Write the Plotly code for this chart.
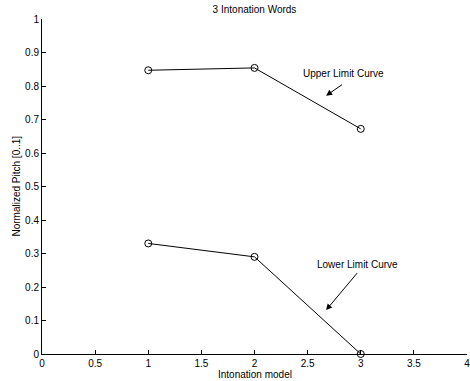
import plotly.graph_objects as go

models = [1, 2, 3]
upper_limit = [0.847, 0.854, 0.672]
lower_limit = [0.330, 0.290, 0.000]
x_ticks = [0, 0.5, 1, 1.5, 2, 2.5, 3, 3.5, 4]
x_tick_labels = ["0", "0.5", "1", "1.5", "2", "2.5", "3", "3.5", "4"]
y_ticks = [0, 0.1, 0.2, 0.3, 0.4, 0.5, 0.6, 0.7, 0.8, 0.9, 1]
y_tick_labels = ["0", "0.1", "0.2", "0.3", "0.4", "0.5", "0.6", "0.7", "0.8", "0.9", "1"]

FONT = "Liberation Sans, Arial, Helvetica, sans-serif"

fig = go.Figure()
for ys in (upper_limit, lower_limit):
    fig.add_trace(go.Scatter(
        x=models, y=ys, mode="lines+markers",
        line=dict(color="black", width=1),
        marker=dict(symbol="circle-open", size=7, color="black", line=dict(width=1)),
        showlegend=False, cliponaxis=False,
    ))

fig.add_annotation(x=2.674, y=0.771, ax=2.837, ay=0.807, xref="x", yref="y",
                   axref="x", ayref="y", showarrow=True, arrowhead=2,
                   arrowsize=1.2, arrowwidth=1, arrowcolor="black", text="")
fig.add_annotation(x=2.834, y=0.837, xref="x", yref="y", text="Upper Limit Curve",
                   showarrow=False, font=dict(size=10, color="black", family=FONT))
fig.add_annotation(x=2.674, y=0.131, ax=2.978, ay=0.246, xref="x", yref="y",
                   axref="x", ayref="y", showarrow=True, arrowhead=2,
                   arrowsize=1.2, arrowwidth=1, arrowcolor="black", text="")
fig.add_annotation(x=2.973, y=0.266, xref="x", yref="y", text="Lower Limit Curve",
                   showarrow=False, font=dict(size=10, color="black", family=FONT))

# axis titles
fig.add_annotation(x=0.5, y=0, xref="paper", yref="paper", yshift=-20, yanchor="middle",
                   text="Intonation model", showarrow=False,
                   font=dict(size=10, color="black", family=FONT))
fig.add_annotation(x=0, y=0.5, xref="paper", yref="paper", xshift=-26, xanchor="center",
                   text="Normalized Pitch [0..1]", textangle=-90, showarrow=False,
                   font=dict(size=10, color="black", family=FONT))

fig.update_layout(
    width=470, height=381,
    margin=dict(l=42, r=3, t=19, b=27, autoexpand=False),
    paper_bgcolor="white", plot_bgcolor="white",
    font=dict(family=FONT, size=10, color="black"),
    title=dict(text="3 Intonation Words", x=0.5415, xanchor="center",
               yref="container", y=1 - 9 / 381, yanchor="middle",
               font=dict(size=10, color="black", family=FONT)),
    xaxis=dict(range=[0, 4], tickvals=x_ticks, ticktext=x_tick_labels,
               automargin=False, ticklabeloverflow="allow",
               showgrid=False, zeroline=False, showline=True, linecolor="black",
               linewidth=1, ticks="inside", ticklen=4, tickcolor="black",
               tickfont=dict(size=10, color="black", family=FONT)),
    yaxis=dict(range=[0, 1], tickvals=y_ticks, ticktext=y_tick_labels,
               automargin=False, ticklabeloverflow="allow",
               showgrid=False, zeroline=False, showline=True, linecolor="black",
               linewidth=1, ticks="inside", ticklen=4, tickcolor="black",
               tickfont=dict(size=10, color="black", family=FONT)),
)

fig.write_html("out.html", config={"displayModeBar": False},
               post_script="document.body.style.margin='0';document.body.style.overflow='hidden';")
